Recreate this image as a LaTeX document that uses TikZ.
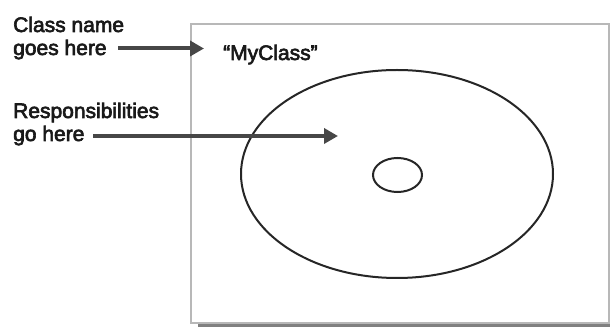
\documentclass[tikz,border=0pt]{standalone}
\usepackage{fontspec}
\setmainfont{Liberation Sans}
\newfontfamily\lblfont{Liberation Sans}[FakeBold=3]
\usetikzlibrary{arrows.meta,shapes.geometric}
\begin{document}
\begin{tikzpicture}[x=1pt,y=-1pt,
  lbl/.style={font=\lblfont\fontsize{21}{23}\selectfont, inner sep=0pt, anchor=base west, text=black!90},
  pointer/.style={draw=black!72, line width=4pt, -{Triangle[length=14pt,width=15pt]}},
  frame/.style={rectangle, draw=black!28, line width=2pt, fill=white, inner sep=0pt, anchor=north west},
  shade/.style={rectangle, fill=black!50, inner sep=0pt, anchor=north west},
  ring/.style={ellipse, draw=black!85, line width=2pt, inner sep=0pt}]
\useasboundingbox (0,0) rectangle (610,328);
\node[shade, minimum width=418pt, minimum height=299pt] (shadow) at (198,28) {};
\node[frame, minimum width=418pt, minimum height=299pt] (card) at (190,23) {};
\node[ring, minimum width=312pt, minimum height=208pt] (resp) at (397,174) {};
\node[ring, minimum width=49pt, minimum height=34pt] (hole) at (397.5,175) {};
\node[lbl] (cn1) at (13,32) {Class name};
\node[lbl] (cn2) at (13,55) {goes here};
\node[lbl] (rs1) at (13,118) {Responsibilities};
\node[lbl] (rs2) at (13,141) {go here};
\node[lbl] (name) at (223,60) {“MyClass”};
\coordinate (s1) at (118,48.5);
\coordinate (t1) at (204,48.5);
\coordinate (s2) at (93,136);
\coordinate (t2) at (338,136);
\draw[pointer] (s1) -- (t1);
\draw[pointer] (s2) -- (t2);
\end{tikzpicture}
\end{document}
